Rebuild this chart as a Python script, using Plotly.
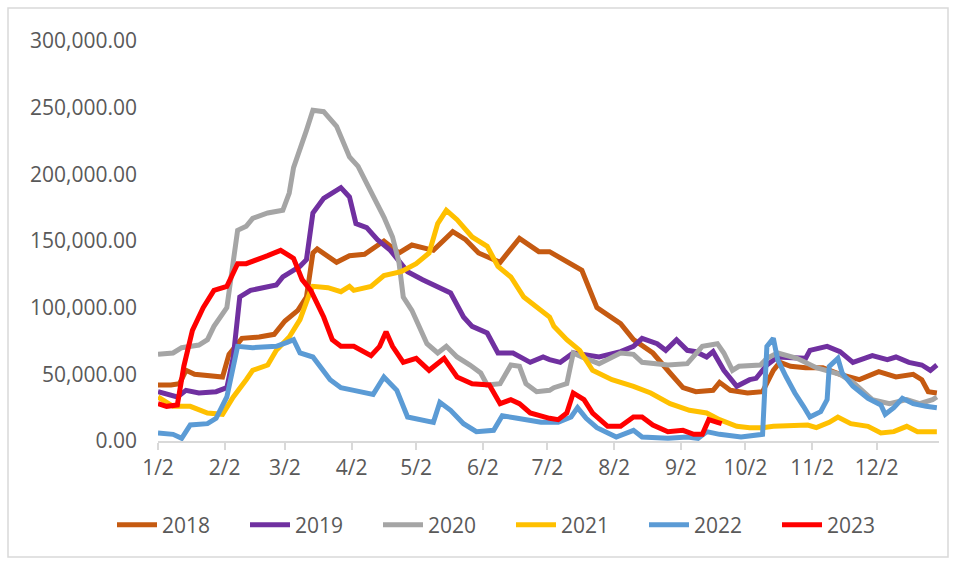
import plotly.graph_objects as go

# x values are day-of-year (Jan 2 = 2 ... Dec 31 = 365)
tick_days = [2, 33, 61, 92, 122, 153, 183, 214, 245, 275, 306, 336]
tick_labels = ["1/2", "2/2", "3/2", "4/2", "5/2", "6/2", "7/2", "8/2", "9/2", "10/2", "11/2", "12/2"]
y_ticks = [0, 50000, 100000, 150000, 200000, 250000, 300000]

days_2018 = [2, 8, 12, 15, 19, 26, 32, 35, 41, 49, 56, 61, 67, 71, 74, 76, 85, 91, 98, 107, 114, 120, 130, 139, 145,
             151, 161, 170, 179, 184, 193, 199, 206, 212, 217, 223, 232, 240, 246, 252, 260, 263, 268, 276, 283, 288,
             291, 296, 303, 311, 319, 328, 337, 345, 353, 357, 360, 364]
vals_2018 = [42, 42, 43, 53, 50, 49, 48, 65, 77, 78, 80, 90, 98, 108, 141, 144, 134, 139, 140, 150, 141, 147, 143, 157,
             151, 141, 134, 152, 142, 142, 134, 128, 100, 93, 88, 76, 66, 51, 40, 37, 38, 44, 38, 36, 37, 53, 59, 56,
             55, 55, 50, 46, 52, 48, 50, 46, 37, 36]

days_2019 = [2, 11, 15, 21, 29, 34, 37, 40, 45, 57, 60, 68, 71, 74, 79, 87, 91, 94, 99, 104, 110, 118, 125, 132, 138,
             144, 148, 155, 160, 167, 175, 181, 184, 189, 195, 207, 217, 223, 227, 234, 238, 243, 248, 252, 257, 260,
             265, 271, 277, 280, 285, 290, 303, 305, 313, 319, 325, 334, 341, 345, 351, 357, 361, 364]
vals_2019 = [37, 33, 38, 36, 37, 40, 63, 108, 113, 117, 123, 131, 136, 171, 182, 190, 183, 163, 160, 151, 143, 127, 121,
             116, 111, 93, 86, 81, 66, 66, 59, 63, 61, 59, 66, 63, 67, 71, 77, 73, 68, 76, 68, 67, 63, 67, 53, 41, 46,
             47, 57, 63, 62, 68, 71, 67, 59, 64, 61, 63, 59, 57, 53, 57]

days_2020 = [2, 9, 13, 21, 25, 28, 34, 37, 39, 43, 46, 53, 60, 63, 65, 71, 74, 79, 85, 91, 95, 100, 107, 111, 114, 116,
             120, 127, 132, 136, 141, 147, 152, 155, 161, 166, 170, 173, 178, 184, 186, 192, 195, 199, 207, 217, 223,
             227, 239, 248, 255, 262, 265, 269, 272, 282, 285, 290, 299, 308, 319, 325, 330, 334, 342, 350, 356, 362, 364]
vals_2020 = [65, 66, 70, 72, 76, 86, 100, 133, 158, 161, 167, 171, 173, 186, 205, 233, 248, 247, 236, 213, 206, 190,
             168, 153, 134, 108, 98, 73, 66, 71, 63, 57, 51, 42, 43, 57, 56, 43, 37, 38, 40, 43, 66, 63, 58, 66, 65,
             59, 57, 58, 71, 73, 66, 53, 56, 57, 62, 66, 62, 55, 50, 44, 37, 31, 28, 31, 28, 31, 33]

days_2021 = [2, 9, 17, 25, 32, 37, 43, 46, 53, 57, 63, 68, 73, 74, 81, 87, 91, 93, 101, 107, 115, 122, 128, 132, 136,
             141, 148, 155, 160, 166, 172, 178, 184, 186, 192, 198, 204, 213, 223, 231, 240, 249, 257, 263, 271, 277,
             283, 288, 304, 308, 314, 318, 324, 332, 338, 344, 350, 355, 364]
vals_2021 = [33, 26, 26, 21, 20, 33, 46, 53, 57, 68, 78, 91, 113, 116, 115, 112, 116, 113, 116, 124, 127, 133, 141, 163,
             173, 166, 153, 146, 131, 123, 108, 101, 93, 86, 76, 68, 53, 46, 41, 36, 28, 23, 21, 16, 11, 10, 10, 11,
             12, 10, 14, 18, 13, 11, 6, 7, 11, 7, 7]

days_2022 = [2, 9, 13, 17, 25, 29, 34, 37, 39, 46, 57, 62, 65, 68, 74, 82, 87, 93, 102, 107, 113, 118, 124, 130, 133,
             138, 144, 150, 158, 162, 169, 180, 188, 194, 197, 201, 206, 215, 223, 227, 239, 248, 253, 257, 263, 273,
             283, 285, 288, 290, 294, 298, 302, 305, 310, 313, 314, 318, 320, 325, 332, 338, 340, 344, 348, 353, 359, 364]
vals_2022 = [6, 5, 2, 12, 13, 17, 33, 56, 71, 70, 71, 74, 76, 66, 63, 46, 40, 38, 35, 48, 38, 18, 16, 14, 29, 23, 13, 7,
             8, 19, 17, 14, 14, 18, 25, 17, 10, 3, 8, 3, 2, 3, 2, 7, 5, 3, 5, 71, 77, 61, 48, 36, 26, 18, 22, 31, 56,
             62, 51, 41, 32, 27, 20, 25, 32, 28, 26, 25]

days_2023 = [2, 6, 11, 14, 18, 23, 28, 34, 39, 43, 53, 59, 65, 69, 73, 79, 83, 87, 93, 101, 105, 108, 111, 116, 122,
             128, 135, 141, 148, 156, 161, 166, 170, 175, 184, 188, 192, 195, 200, 204, 211, 217, 223, 227, 232, 239,
             246, 251, 255, 258, 262, 264]
vals_2023 = [28, 26, 27, 56, 83, 100, 113, 116, 133, 133, 139, 143, 137, 121, 113, 93, 76, 71, 71, 64, 71, 82, 71, 59,
             62, 53, 62, 48, 43, 42, 28, 31, 28, 21, 17, 16, 21, 36, 31, 21, 11, 11, 18, 18, 12, 7, 8, 5, 5, 16, 14, 13]

series = [
    ("2018", days_2018, vals_2018, "#C55A11"),
    ("2019", days_2019, vals_2019, "#7030A0"),
    ("2020", days_2020, vals_2020, "#A5A5A5"),
    ("2021", days_2021, vals_2021, "#FFC000"),
    ("2022", days_2022, vals_2022, "#5B9BD5"),
    ("2023", days_2023, vals_2023, "#FF0000"),
]

FONT = "Open Sans"
TXT = "#595959"
FS = 21

fig = go.Figure()
for name, d, v, c in series:
    fig.add_trace(go.Scatter(
        x=d, y=[val * 1000 for val in v], name=name, mode="lines",
        line=dict(color=c, width=5),
    ))

W, H = 955, 561
ml, mr, mt, mb = 158, 16, 41, 120
pw, ph = W - ml - mr, H - mt - mb

def px_x(p):
    return (p - ml) / pw

def px_y(p):
    return (H - mb - p) / ph

fig.update_layout(
    width=W, height=H,
    margin=dict(l=ml, r=mr, t=mt, b=mb, pad=0),
    paper_bgcolor="white", plot_bgcolor="white",
    font=dict(family=FONT, size=FS, color=TXT),
    showlegend=True,
    legend=dict(
        orientation="h", x=px_x(112), xanchor="left", y=px_y(525), yanchor="middle",
        font=dict(family=FONT, size=FS, color=TXT),
        entrywidth=78, entrywidthmode="pixels", itemwidth=40,
        bgcolor="rgba(0,0,0,0)",
    ),
    xaxis=dict(
        range=[2, 365], tickmode="array", tickvals=tick_days, ticktext=tick_labels,
        showgrid=False, zeroline=False, showline=True, linecolor="#D9D9D9", linewidth=2,
        ticks="outside", ticklen=7, tickcolor="#D9D9D9", tickwidth=2,
        tickfont=dict(family=FONT, size=FS, color=TXT),
    ),
    yaxis=dict(
        range=[0, 300000], tickmode="array", tickvals=y_ticks, tickformat=",.2f",
        showgrid=False, zeroline=False, showline=False, ticks="",
        ticklabelstandoff=20,
        tickfont=dict(family=FONT, size=FS, color=TXT),
    ),
    shapes=[dict(
        type="rect", xref="paper", yref="paper",
        x0=px_x(8), x1=px_x(948), y0=px_y(557), y1=px_y(8),
        line=dict(color="#D9D9D9", width=1.5), layer="below",
    )],
)

fig.write_html("out.html")
